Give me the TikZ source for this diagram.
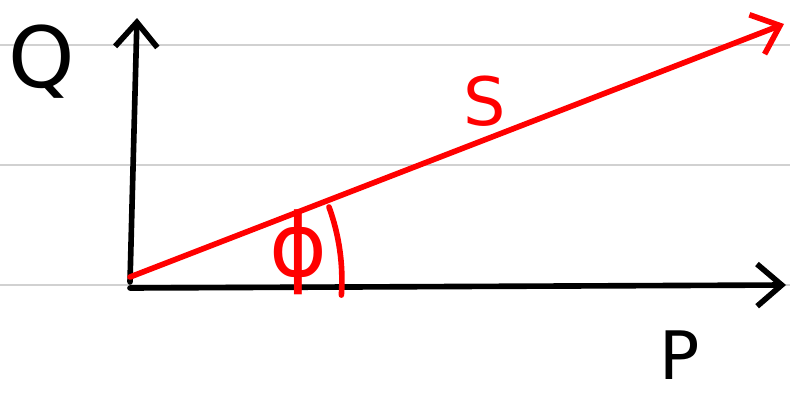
\documentclass[tikz,border=0pt]{standalone}
\usepackage{fontspec}
\setsansfont{DejaVu Sans}
\usetikzlibrary{arrows.meta}
\begin{document}
\begin{tikzpicture}[x=0.01cm,y=-0.01cm,
  rule/.style={draw=black!18,line width=0.8pt},
  axis/.style={draw=black,line width=1.6pt,line cap=round,-{Straight Barb[length=7pt,width=12pt,line width=1.6pt]}},
  vec/.style={draw=red,line width=1.6pt,line cap=round,-{Straight Barb[length=7pt,width=12pt,line width=1.6pt]}},
  lbl/.style={font=\sffamily\fontsize{24}{24}\selectfont,inner sep=0pt},
  small/.style={font=\sffamily\fontsize{19}{19}\selectfont,inner sep=0pt}]
\useasboundingbox (0,0) rectangle (790,397);
\draw[rule] (0,45) -- (790,45);
\draw[rule] (0,165) -- (790,165);
\draw[rule] (0,285) -- (790,285);
\coordinate (o) at (130,282);
\coordinate (oh) at (130,288);
\coordinate (qt) at (137,18);
\coordinate (pt) at (786,285);
\coordinate (st) at (784,24);
\draw[axis] (o) -- (qt);
\draw[axis] (oh) -- (pt);
\draw[vec] (130,277) -- (st);
\draw[red,line width=1.6pt,line cap=round] (329,207) arc[start angle=-20,end angle=4,radius=214];
\node[lbl] (q) at (42,62) {Q};
\node[small] (p) at (680,355) {P};
\node[small,red] (s) at (485,101) {S};
\node[red,inner sep=0pt,font=\sffamily\fontsize{25}{25}\selectfont] (phi) at (298,252) {ϕ};
\end{tikzpicture}
\end{document}
